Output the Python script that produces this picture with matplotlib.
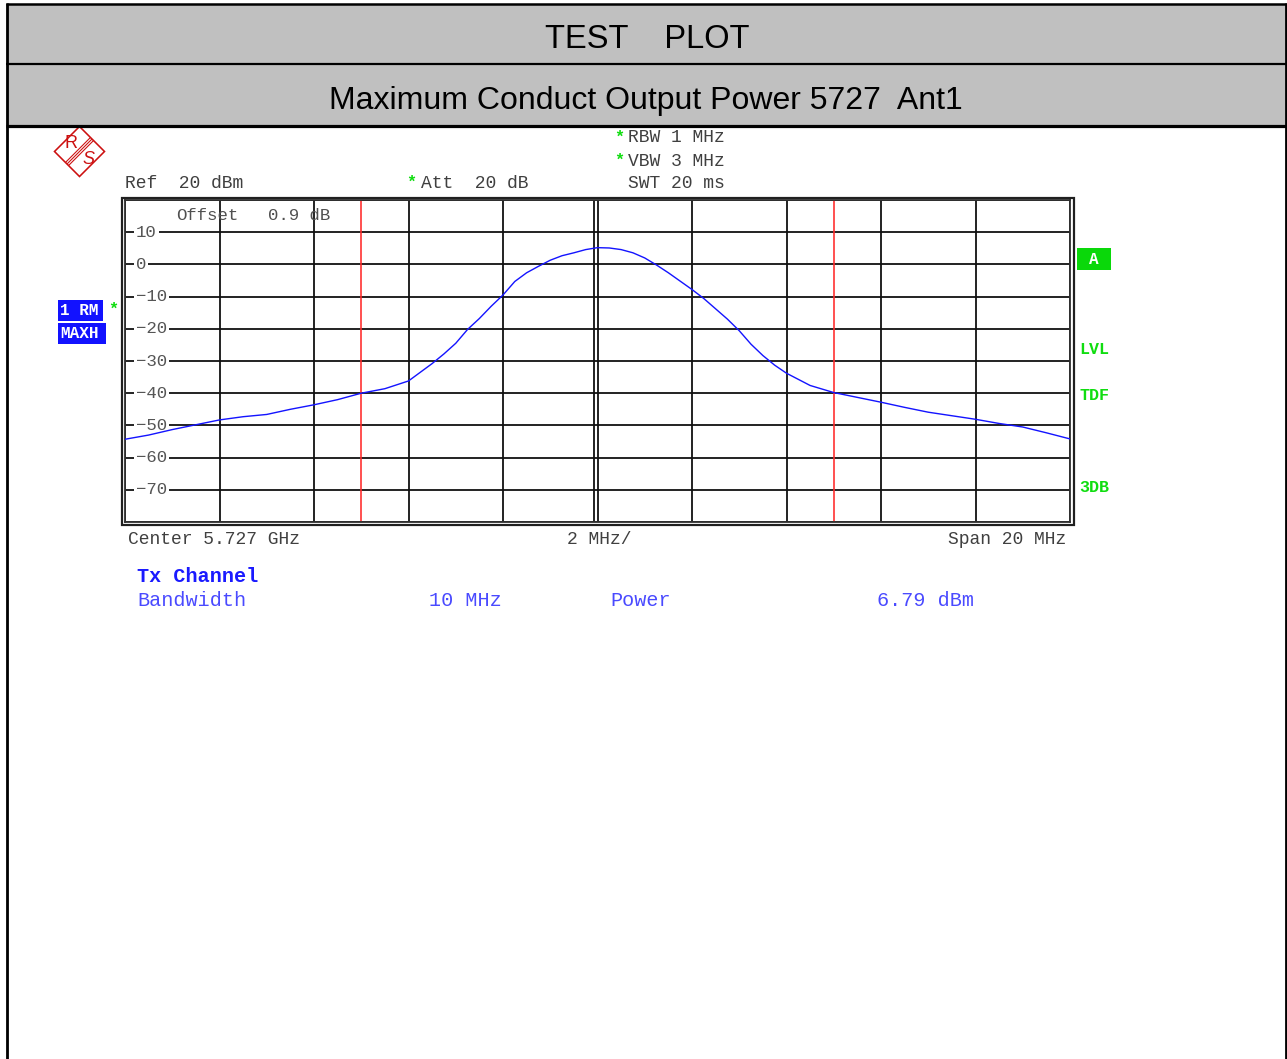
import numpy as np
import matplotlib
matplotlib.use("Agg")
import matplotlib.pyplot as plt
from matplotlib.patches import Rectangle, Polygon
from matplotlib.lines import Line2D

# ---------------- data ----------------
freq_mhz = [-10.0, -9.5, -9.0, -8.5, -8.0, -7.5, -7.0, -6.5, -6.0, -5.5, -5.0,
            -4.5, -4.0, -3.75, -3.5, -3.25, -3.0, -2.75, -2.5, -2.25, -2.0,
            -1.75, -1.5, -1.25, -1.0, -0.75, -0.5, -0.25, 0.0, 0.25, 0.5,
            0.75, 1.0, 1.25, 1.5, 1.75, 2.0, 2.25, 2.5, 2.75, 3.0, 3.25, 3.5,
            3.75, 4.0, 4.5, 5.0, 5.5, 6.0, 6.5, 7.0, 7.5, 8.0, 8.5, 9.0, 9.5, 10.0]
level_dbm = [-54.3, -53.0, -51.3, -49.8, -48.3, -47.3, -46.6, -45.0, -43.6, -42.0, -40.0,
             -38.6, -36.2, -33.5, -30.8, -27.8, -24.5, -20.2, -16.8, -13.0, -9.5,
             -5.3, -2.6, -0.6, 1.3, 2.7, 3.6, 4.6, 5.2, 5.1, 4.6,
             3.6, 2.0, -0.2, -2.6, -5.2, -7.8, -10.6, -13.8, -17.0, -20.6, -24.8, -28.3,
             -31.3, -33.8, -37.6, -39.8, -41.3, -42.8, -44.4, -45.9, -47.0, -48.1, -49.4, -50.5, -52.3, -54.2]
channel_bw_mhz = 10
y_ticks = [10, 0, -10, -20, -30, -40, -50, -60, -70]
x_grid = [-10, -8, -6, -4, -2, 0, 2, 4, 6, 8, 10]
ref_level = 20
y_min = -80

title1 = "TEST    PLOT"
title2 = "Maximum Conduct Output Power 5727  Ant1"

# ---------------- figure ----------------
W, H = 1287, 1059
fig = plt.figure(figsize=(W / 100, H / 100), dpi=100)
fig.patch.set_facecolor("white")

def fx(x):
    return x / W

def fy(y):
    return 1 - y / H

def px2pt(p):
    return p * 72 / 100

# header bands
fig.patches.append(Rectangle((fx(7), fy(126)), fx(1286) - fx(7), fy(4) - fy(126),
                             transform=fig.transFigure, fc="#c0c0c0", ec="none", zorder=0))
for yy, lw in [(4, 2.5), (63.5, 2.2), (125.5, 3.2)]:
    fig.add_artist(Line2D([fx(6), fx(1287)], [fy(yy), fy(yy)], transform=fig.transFigure,
                          color="black", lw=px2pt(lw), solid_capstyle="butt"))
for xx in [7.2, 1285.8]:
    fig.add_artist(Line2D([fx(xx), fx(xx)], [fy(3), fy(1060)], transform=fig.transFigure,
                          color="black", lw=px2pt(2.8), solid_capstyle="butt"))

hdr_font = ["Liberation Sans Narrow", "Liberation Sans", "DejaVu Sans"]
fig.text(fx(647), fy(40), title1, ha="center", va="center", fontsize=23.5,
         family=hdr_font, color="black")
fig.text(fx(646), fy(101), title2, ha="center", va="center", fontsize=23,
         family=hdr_font, color="black")

# ---------------- axes ----------------
x0, x1, y0, y1 = 125, 1070, 200, 522
ax = fig.add_axes([fx(x0), fy(y1), fx(x1) - fx(x0), fy(y0) - fy(y1)])
ax.set_xlim(-10, 10)
ax.set_ylim(y_min, ref_level)
ax.set_xticks(x_grid)
ax.set_yticks(list(range(y_min, ref_level + 1, 10)))
ax.tick_params(length=0, labelbottom=False, labelleft=False)
ax.grid(True, color="#101010", lw=px2pt(1.8))
ax.set_axisbelow(True)
for s in ax.spines.values():
    s.set_color("#303030")
    s.set_linewidth(px2pt(1.8))
# double centre line
ax.axvline(-0.065, color="#101010", lw=px2pt(1.8), zorder=0.6)

# channel limits
half = channel_bw_mhz / 2
for xv in (-half, half):
    ax.axvline(xv, color="#ff2a2a", lw=px2pt(1.6), zorder=2)

# trace
ax.plot(freq_mhz, level_dbm, color="#1414ff", lw=px2pt(1.4), zorder=3)

# y labels inside the grid (under the trace)
mono = ["Liberation Mono", "DejaVu Sans Mono"]
ytr = ax.get_yaxis_transform()
for v in y_ticks:
    lab = str(v).replace("-", "\u2212")
    ax.text((136 - x0) / (x1 - x0), v, lab, transform=ytr, ha="left", va="center",
            fontsize=12.5, family=mono, color="#555555", zorder=2.5,
            bbox=dict(boxstyle="square,pad=0.12", fc="white", ec="none"))

ax.text((176 - x0) / (x1 - x0), 1 - (215 - y0) / (y1 - y0), "Offset", transform=ax.transAxes,
        ha="left", va="center", fontsize=12.5, family=mono, color="#505050", zorder=4)
ax.text((268 - x0) / (x1 - x0), 1 - (215 - y0) / (y1 - y0), "0.9 dB", transform=ax.transAxes,
        ha="left", va="center", fontsize=12.5, family=mono, color="#505050", zorder=4)

# outer frame line
fig.patches.append(Rectangle((fx(121.5), fy(524.5)), fx(1073.5) - fx(121.5), fy(197.5) - fy(524.5),
                             transform=fig.transFigure, fc="none", ec="#202020",
                             lw=px2pt(2.2), zorder=5))

# ---------------- instrument text ----------------
grey = "#404040"
green = "#10dd10"

def info(x, y, s, **kw):
    d = dict(ha="left", va="center", fontsize=13, family=mono, color=grey)
    d.update(kw)
    fig.text(fx(x), fy(y), s, **d)

info(125, 183, "Ref  20 dBm")
info(406, 182, "*", color=green, fontweight="bold", fontsize=12)
info(421, 183, "Att  20 dB")
info(614, 137, "*", color=green, fontweight="bold", fontsize=12)
info(628, 138, "RBW 1 MHz")
info(614, 160, "*", color=green, fontweight="bold", fontsize=12)
info(628, 161, "VBW 3 MHz")
info(628, 183, "SWT 20 ms")

info(128, 539, "Center 5.727 GHz")
info(567, 539, "2 MHz/")
info(1066, 539, "Span 20 MHz", ha="right")

blue = "#1a1aff"
lblue = "#4a4aff"
info(137, 576, "Tx Channel", color=blue, fontweight="bold", fontsize=14.5)
info(137, 601, "Bandwidth", color=lblue, fontsize=14.5)
info(429, 601, f"{channel_bw_mhz} MHz", color=lblue, fontsize=14.5)
info(610, 601, "Power", color=lblue, fontsize=14.5)
info(877, 601, "6.79 dBm", color=lblue, fontsize=14.5)

# left trace boxes
for (bx0, by0, bx1, by1, s) in [(58, 300, 103, 321, "1 RM"), (58, 323, 106, 344, "MAXH")]:
    fig.patches.append(Rectangle((fx(bx0), fy(by1)), fx(bx1) - fx(bx0), fy(by0) - fy(by1),
                                 transform=fig.transFigure, fc="#1212ff", ec="none"))
    info(bx0 + 2, (by0 + by1) / 2, s, color="white", fontweight="bold", fontsize=11.5)
info(108, 309, "*", color=green, fontweight="bold", fontsize=12)

# right side green labels
fig.patches.append(Rectangle((fx(1077), fy(270)), fx(1111) - fx(1077), fy(248) - fy(270),
                             transform=fig.transFigure, fc="#0ad80a", ec="none"))
info(1094, 259, "A", color="white", fontweight="bold", fontsize=11.5, ha="center")
for yy, s in [(350, "LVL"), (395, "TDF"), (487, "3DB")]:
    info(1079, yy, s, color=green, fontweight="bold", fontsize=12)

# R&S logo
red = "#cc1010"
cx, cy, r = 79.5, 151.5, 25
fig.patches.append(Polygon([(fx(cx), fy(cy - r)), (fx(cx + r), fy(cy)), (fx(cx), fy(cy + r)),
                            (fx(cx - r), fy(cy))], closed=True, transform=fig.transFigure,
                           fc="none", ec=red, lw=px2pt(1.6)))
for off in (-2.2, 0, 2.2):
    fig.add_artist(Line2D([fx(cx + 12 + off * 0.7), fx(cx - 12 + off * 0.7)],
                          [fy(cy - 12 + off * 0.7), fy(cy + 12 + off * 0.7)],
                          transform=fig.transFigure, color=red, lw=px2pt(1.1)))
fig.text(fx(71), fy(143), "R", ha="center", va="center", fontsize=13,
         family=["Liberation Sans", "DejaVu Sans"], color=red)
fig.text(fx(88.5), fy(160), "S", ha="center", va="center", fontsize=13, style="italic",
         family=["Liberation Sans", "DejaVu Sans"], color=red)

fig.savefig("out.png", dpi=100, facecolor="white")
